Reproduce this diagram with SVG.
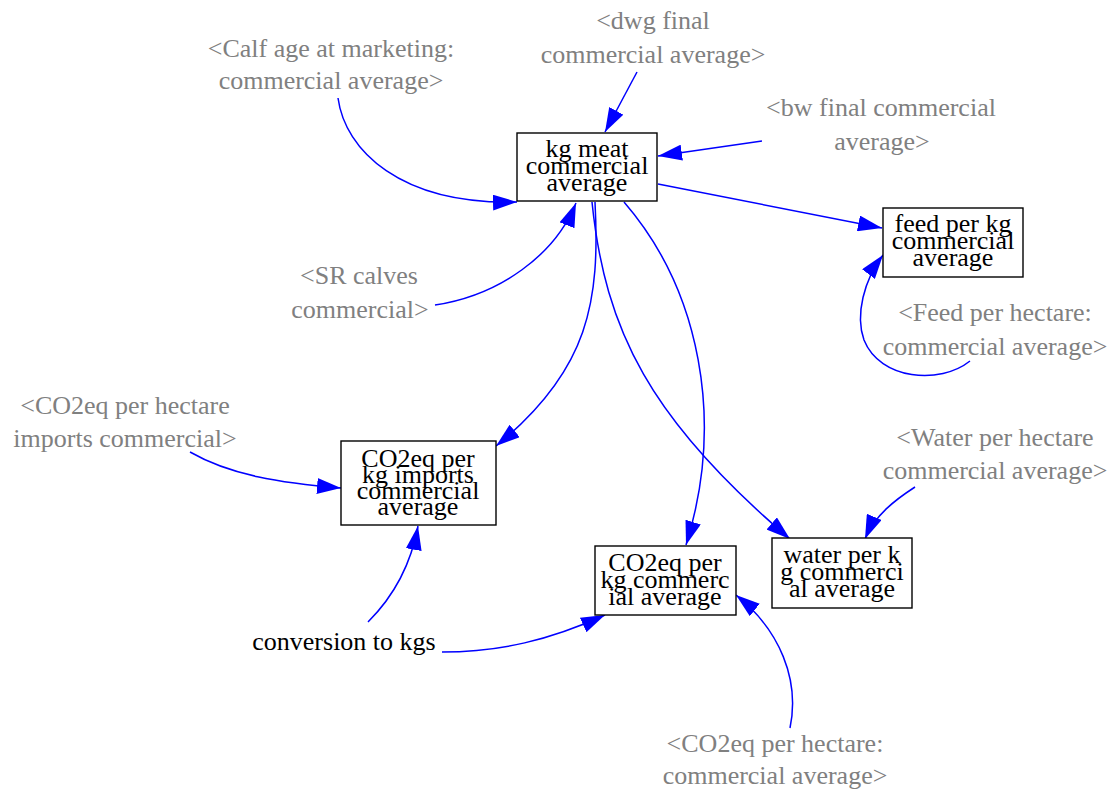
<svg xmlns="http://www.w3.org/2000/svg" width="1117" height="792" viewBox="0 0 1117 792">
<style>
text{font-family:"Liberation Serif","Times New Roman",serif;font-size:26px;text-anchor:middle}
.g{fill:#808080}
.k{fill:#000}
.box{fill:#fff;stroke:#000;stroke-width:1.4}
.e{fill:none;stroke:#0000ff;stroke-width:1.5;marker-end:url(#ah)}
</style>
<defs>
<marker id="ah" markerUnits="userSpaceOnUse" markerWidth="24" markerHeight="16" refX="24" refY="8" orient="auto" viewBox="0 0 24 16">
<path d="M0,0 L24,8 L0,16 z" fill="#0000ff"/>
</marker>
</defs>
<rect width="1117" height="792" fill="#fff"/>
<g id="edges">
<path class="e" d="M637,72 L605,132"/>
<path class="e" d="M762,141 L658,156"/>
<path class="e" d="M338,98 C345,150 400,205 517,202"/>
<path class="e" d="M435,305 C500,295 555,255 576,203"/>
<path class="e" d="M658,184 L882,228"/>
<path class="e" d="M970,361 C940,385 880,380 864,340 C855,315 864,280 883,255"/>
<path class="e" d="M595,202 C600,300 590,370 496,446"/>
<path class="e" d="M592,202 C605,330 650,420 790,539"/>
<path class="e" d="M624,202 C700,290 725,420 686,545"/>
<path class="e" d="M915,487 C895,500 875,515 865,539"/>
<path class="e" d="M190,452 C230,475 280,483 341,488"/>
<path class="e" d="M368,622 C390,600 410,570 418,526"/>
<path class="e" d="M442,652 C500,652 550,640 605,615"/>
<path class="e" d="M790,728 C800,680 780,630 736,595"/>
</g>
<g id="kg_meat">
<rect class="box" x="517" y="133" width="140" height="68"/>
<text class="k" x="587" y="157">kg meat</text>
<text class="k" x="587" y="174">commercial</text>
<text class="k" x="587" y="191">average</text>
</g>
<g id="feed_per_kg">
<rect class="box" x="883" y="208" width="140" height="69"/>
<text class="k" x="953" y="232">feed per kg</text>
<text class="k" x="953" y="249">commercial</text>
<text class="k" x="953" y="266">average</text>
</g>
<g id="co2_imports">
<rect class="box" x="341" y="441" width="155" height="84"/>
<text class="k" x="418" y="467">CO2eq per</text>
<text class="k" x="418" y="483">kg imports</text>
<text class="k" x="418" y="499">commercial</text>
<text class="k" x="418" y="515">average</text>
</g>
<g id="co2_commercial">
<rect class="box" x="595" y="546" width="141" height="69"/>
<text class="k" x="665" y="571">CO2eq per</text>
<text class="k" x="665" y="588">kg commerc</text>
<text class="k" x="665" y="605">ial average</text>
</g>
<g id="water_per_kg">
<rect class="box" x="772" y="538" width="140" height="70"/>
<text class="k" x="842" y="563">water per k</text>
<text class="k" x="842" y="580">g commerci</text>
<text class="k" x="842" y="597">al average</text>
</g>
<g id="dwg_final">
<text class="g" x="653" y="29">&lt;dwg final</text>
<text class="g" x="653" y="63">commercial average&gt;</text>
</g>
<g id="calf_age">
<text class="g" x="331" y="57">&lt;Calf age at marketing:</text>
<text class="g" x="331" y="89">commercial average&gt;</text>
</g>
<g id="bw_final">
<text class="g" x="881" y="116">&lt;bw final commercial</text>
<text class="g" x="882" y="150">average&gt;</text>
</g>
<g id="sr_calves">
<text class="g" x="359" y="284">&lt;SR calves</text>
<text class="g" x="360" y="318">commercial&gt;</text>
</g>
<g id="feed_per_hectare">
<text class="g" x="995" y="321">&lt;Feed per hectare:</text>
<text class="g" x="995" y="355">commercial average&gt;</text>
</g>
<g id="co2_hectare_imports">
<text class="g" x="125" y="414">&lt;CO2eq per hectare</text>
<text class="g" x="125" y="447">imports commercial&gt;</text>
</g>
<g id="water_per_hectare">
<text class="g" x="995" y="446">&lt;Water per hectare</text>
<text class="g" x="995" y="479">commercial average&gt;</text>
</g>
<g id="co2_hectare_commercial">
<text class="g" x="775" y="752">&lt;CO2eq per hectare:</text>
<text class="g" x="775" y="784">commercial average&gt;</text>
</g>
<g id="conversion">
<text class="k" x="344" y="650">conversion to kgs</text>
</g>
</svg>
